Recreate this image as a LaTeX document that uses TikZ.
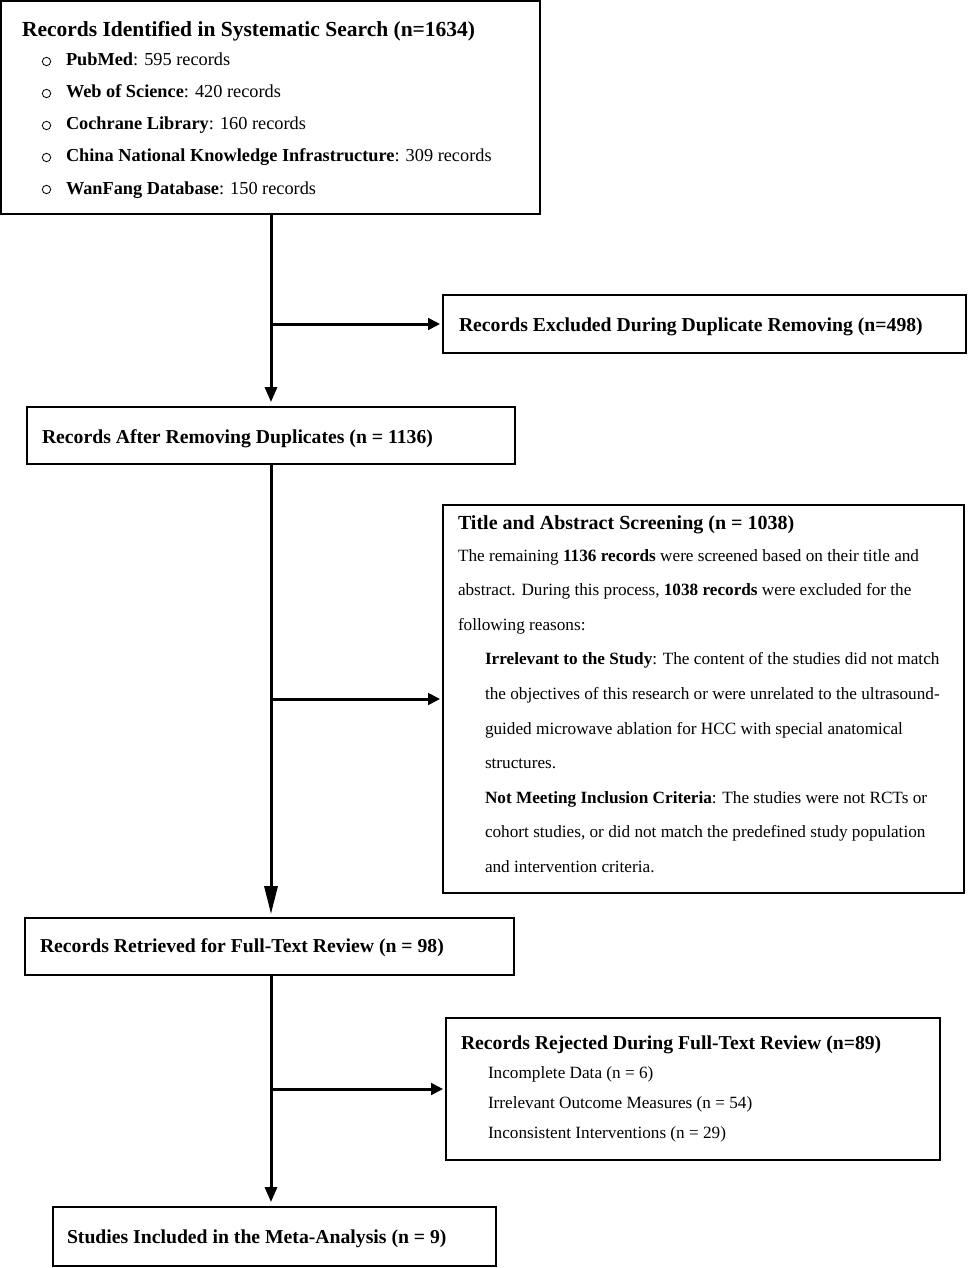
\documentclass[tikz,border=0pt]{standalone}
\usepackage{fontspec}
\setmainfont{Liberation Serif}
\usetikzlibrary{arrows.meta}
\begin{document}
\begin{tikzpicture}[x=1pt,y=-1pt,
  box/.style={draw=black, line width=1.8pt, inner sep=0pt, fill=none},
  txt/.style={anchor=base west, inner sep=0pt, outer sep=0pt},
  bigtitle/.style={txt, font=\fontsize{21.5}{24}\selectfont\bfseries},
  item/.style={txt, font=\fontsize{18.3}{21}\selectfont},
  head/.style={txt, font=\fontsize{19.7}{22}\selectfont\bfseries},
  shead/.style={txt, font=\fontsize{20}{22}\selectfont\bfseries},
  body/.style={txt, font=\fontsize{17.2}{20}\selectfont},
  arr/.style={line width=3pt, -{Triangle[length=15pt,width=12pt]}},
  longarr/.style={line width=3pt, -{Triangle[length=28pt,width=13pt]}},
  sidearr/.style={line width=3pt, -{Triangle[length=12pt,width=11.5pt]}, shorten >=2pt},
  bul/.style={line width=0.8pt}
]
\useasboundingbox (0,0) rectangle (968,1268);
\fill[white] (0,0) rectangle (968,1268);

% boxes
\node[box, minimum width=539, minimum height=213] (b1) at (270.5,107.5) {};
\node[box, minimum width=523, minimum height=58] (b2) at (704.5,324) {};
\node[box, minimum width=488, minimum height=57] (b3) at (271,435.5) {};
\node[box, minimum width=521, minimum height=388] (b4) at (703.5,699) {};
\node[box, minimum width=489, minimum height=57] (b5) at (269.5,946.5) {};
\node[box, minimum width=494, minimum height=142] (b6) at (693,1089) {};
\node[box, minimum width=443, minimum height=59] (b7) at (274.5,1236.5) {};

% box 1 text
\node[bigtitle] (t1) at (22,37) {Records Identified in Systematic Search (n=1634)};
\foreach \y/\b/\r [count=\i] in {66/PubMed/595 records, 98/Web of Science/420 records, 130/Cochrane Library/160 records, 162/China National Knowledge Infrastructure/309 records, 194/WanFang Database/150 records}{
  \draw[bul] (46.5,\y-4.5) circle (4.2);
  \node[item] (i\i) at (66,\y) {\textbf{\b}: \r};
}

% box 2
\node[head] (t2) at (459,331) {Records Excluded During Duplicate Removing (n=498)};
% box 3
\node[head] (t3) at (42,443) {Records After Removing Duplicates (n = 1136)};
% box 4
\node[shead] (t4) at (458,529) {Title and Abstract Screening (n = 1038)};
\node[body] (l1) at (458,561) {The remaining \textbf{1136 records} were screened based on their title and};
\node[body] (l2) at (458,595.6) {abstract. During this process, \textbf{1038 records} were excluded for the};
\node[body] (l3) at (458,630.2) {following reasons:};
\node[body] (l4) at (485,664.8) {\textbf{Irrelevant to the Study}: The content of the studies did not match};
\node[body] (l5) at (485,699.4) {the objectives of this research or were unrelated to the ultrasound-};
\node[body] (l6) at (485,734) {guided microwave ablation for HCC with special anatomical};
\node[body] (l7) at (485,768.6) {structures.};
\node[body] (l8) at (485,803.2) {\textbf{Not Meeting Inclusion Criteria}: The studies were not RCTs or};
\node[body] (l9) at (485,837.8) {cohort studies, or did not match the predefined study population};
\node[body] (l10) at (485,872.4) {and intervention criteria.};
% box 5
\node[head] (t5) at (40,952) {Records Retrieved for Full-Text Review (n = 98)};
% box 6
\node[head] (t6) at (461,1049) {Records Rejected During Full-Text Review (n=89)};
\node[body] (r1) at (488,1078) {Incomplete Data (n = 6)};
\node[body] (r2) at (488,1108) {Irrelevant Outcome Measures (n = 54)};
\node[body] (r3) at (488,1138) {Inconsistent Interventions (n = 29)};
% box 7
\node[head] (t7) at (67,1243) {Studies Included in the Meta-Analysis (n = 9)};

% connectors
\coordinate (trunk) at (271,0);
\draw[arr, shorten >=4pt] (b1.south -| trunk) -- (b3.north -| trunk);
\draw[longarr, shorten >=3pt] (b3.south -| trunk) -- (b5.north -| trunk);
\draw[arr, shorten >=4pt] (b5.south -| trunk) -- (b7.north -| trunk);
\draw[sidearr] (b2.west -| trunk) -- (b2.west);
\draw[sidearr] (b4.west -| trunk) -- (b4.west);
\draw[sidearr] (b6.west -| trunk) -- (b6.west);
\end{tikzpicture}
\end{document}
